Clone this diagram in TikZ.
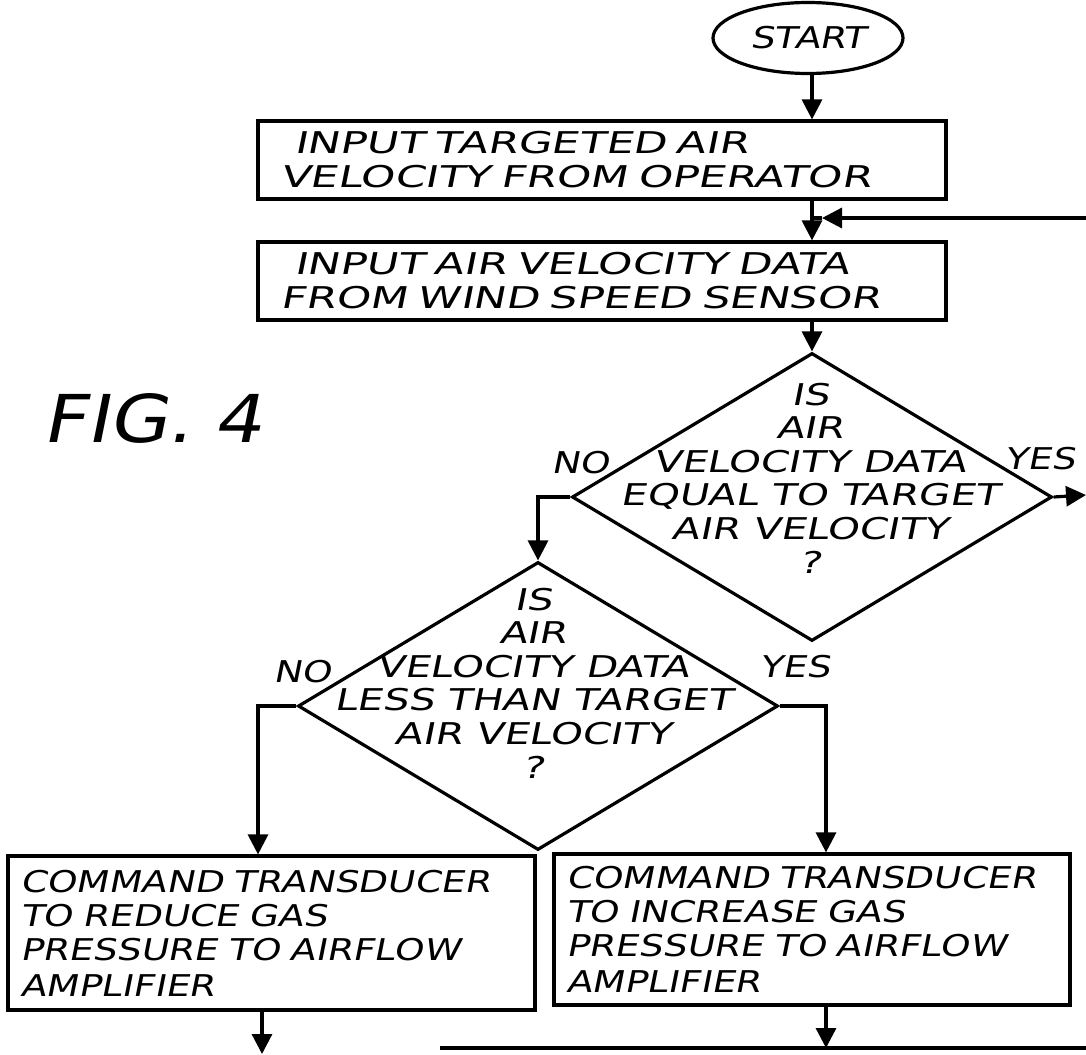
\documentclass[tikz,border=0pt]{standalone}
\usepackage{fontspec}
\usepackage{tikz}
\usetikzlibrary{shapes.geometric,arrows.meta}
\newfontfamily\hand{DejaVu Sans}[FakeSlant=0.2,FakeStretch=1.25]
\newfontfamily\handmid{DejaVu Sans}[FakeSlant=0.2,FakeStretch=1.35]
\newfontfamily\handwide{DejaVu Sans}[FakeSlant=0.2,FakeStretch=1.45]
\newfontfamily\figfont{DejaVu Sans}[FakeSlant=0.2,FakeStretch=1.15]

\begin{document}
\begin{tikzpicture} [
    x = 0.5pt, y = -0.5pt,
    line width = 1.6pt,
    font = \hand\fontsize{15pt}{17pt}\selectfont,
    every node/.style = { inner sep = 0 },
    box/.style = { draw, align = left, inner xsep = 11pt, text width = 322pt, minimum height = 39pt, font = \handwide\fontsize{15pt}{17pt}\selectfont },
    lowbox/.style = { draw, align = left, inner xsep = 6pt },
    test/.style = { draw, diamond, minimum width = 240pt, minimum height = 144pt },
    testtext/.style = { align = center, font = \handmid\fontsize{15pt}{16.8pt}\selectfont },
    arr/.style = { -{Triangle[length = 10pt, width = 10pt]} }
    ]

    \path[use as bounding box, fill = white] (0,0) rectangle (1086,1054);

    \node[draw, ellipse, minimum width = 95pt, minimum height = 35.5pt] (start) at (808,38) {START};
    \node[box] (target) at (602,160) {\hspace*{7pt}INPUT TARGETED AIR\\VELOCITY FROM OPERATOR};
    \node[box] (sensor) at (602,281) {\hspace*{7pt}INPUT AIR VELOCITY DATA\\FROM WIND SPEED SENSOR};
    \node[font = \figfont\fontsize{33pt}{36pt}\selectfont] (fig) at (152,418) {FIG.\,\,4};

    \node[test] (equal) at (812,497) {};
    \node[testtext] (equaltxt) at (810,478) {IS\\AIR\\VELOCITY DATA\\EQUAL TO TARGET\\AIR VELOCITY\\?};
    \node (no1) at (580,463) {NO};
    \node (yes1) at (1040,459) {YES};

    \node[test] (less) at (538,706) {};
    \node[testtext] (lesstxt) at (533,683) {IS\\AIR\\VELOCITY DATA\\LESS THAN TARGET\\AIR VELOCITY\\?};
    \node (no2) at (302,672) {NO};
    \node (yes2) at (795,667) {YES};

    \node[lowbox, text width = 251.5pt, minimum height = 77pt] (reduce) at (271.5,933) {COMMAND TRANSDUCER\\TO REDUCE GAS\\PRESSURE TO AIRFLOW\\[1pt]AMPLIFIER};
    \node[lowbox, text width = 246pt, minimum height = 75.5pt] (increase) at (812,929.5) {COMMAND TRANSDUCER\\TO INCREASE GAS\\PRESSURE TO AIRFLOW\\[1pt]AMPLIFIER};

    \coordinate (back) at (1086,218);
    \coordinate (join) at (812,218);
    \coordinate (yesend) at (1086,495);
    \coordinate (nobend) at (258,706);
    \coordinate (yesbend) at (826,706);
    \coordinate (downl) at (262,1054);
    \coordinate (downr) at (826,1048);
    \coordinate (loopl) at (440,1048);
    \coordinate (loopr) at (1086,1048);

    \draw[arr] (start.south -| join) -- (target.north -| join);
    \draw[arr] (target.south -| join) -- (sensor.north -| join);
    \draw[arr] (back) -- ([xshift = 5pt]join);
    \draw (join) -- ([xshift = 5pt]join);
    \draw[arr] (sensor.south -| join) -- (equal.north);
    \draw[arr] (equal.east) -- (yesend);
    \draw[arr] (equal.west) -| (less.north);
    \draw[arr] (less.west) -- (nobend) -- (nobend |- reduce.north);
    \draw[arr] (less.east) -- (yesbend) -- (yesbend |- increase.north);
    \draw[arr] (reduce.south -| downl) -- (downl);
    \draw (loopl) -- (loopr);
    \draw[arr] (increase.south -| downr) -- (downr);

\end{tikzpicture}
\end{document}
